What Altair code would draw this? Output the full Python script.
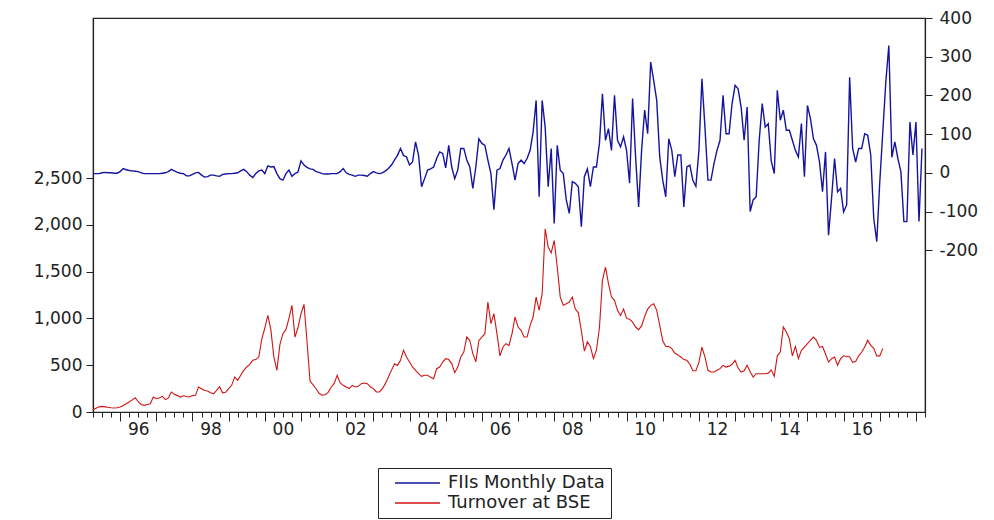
import altair as alt
import pandas as pd

# Monthly observations starting April 1995
start_year = 1995
start_month = 4

series_names = ["FIIs Monthly Data", "Turnover at BSE"]
series_colors = ["#1414a0", "#d01414"]

fii_values = [
    -2, -2, -2, 0, 1, 0, 0, -1, -1,                      # 1995 Apr-Dec
    3, 11, 8, 6, 5, 4, 3, 0, -2, -2, -2, -2,              # 1996
    -2, -2, -1, 0, 3, 9, 5, 1, -1, -2, -8, -8,            # 1997
    -4, 0, 1, -6, -11, -10, -6, -6, -8, -9, -4, -3,       # 1998
    -2, -2, -1, 0, 5, 9, 3, -6, -12, -2, 5, 7,            # 1999
    -2, 18, 15, 16, -2, -15, -19, -2, 7, -9, -2, 2,       # 2000
    31, 20, 14, 10, 9, 3, 1, -2, -3, -3, -2, -2,          # 2001
    -2, 3, 11, 0, -4, -6, -9, -6, -6, -7, -9, -2,         # 2002
    3, 0, -2, 0, 5, 11, 20, 33, 45, 63, 45, 41,           # 2003
    20, 28, 80, 45, -36, -15, 7, 10, 15, 37, 54, 50,      # 2004
    13, 71, 15, -15, 7, 63, 63, 33, 15, -40, 15, 88,      # 2005
    76, 71, 33, -2, -95, 7, 11, 33, 46, 63, 24, -19,      # 2006
    24, 33, 24, 37, 58, 106, 187, -62, 187, 118, -36, 63, # 2007
    -131, 71, 7, -2, -70, -105, -23, -27, -36, -139, -10, 10,  # 2008
    -36, 15, 15, 76, 204, 84, 114, 58, 200, 84, 67, 93,   # 2009
    58, -27, 192, 41, -88, 60, 162, 101, 286, 239, 187, 41,    # 2010
    -19, -62, 88, 58, -10, 46, 46, -88, 15, 20, -20, -35, # 2011
    58, 243, 118, -19, -19, 24, 58, 84, 200, 101, 101, 179,    # 2012
    226, 217, 170, 84, 170, -100, -70, -62, 84, 179, 118, 127, # 2013
    30, -2, 213, 136, 162, 110, 110, 84, 58, 41, 127, -10,     # 2014
    174, 140, 88, 71, 28, -49, 54, -161, -66, 37, -49, -40,    # 2015
    -101, -83, 247, 63, 28, 63, 63, 101, 97, 46, -118, -178,   # 2016
    -23, 106, 235, 329, 40, 80, 37, 3, -126, -126, 131, 46,    # 2017
    131, -126, 63,                                        # 2018 Jan-Mar
]

turnover_values = [
    25, 40, 55, 60, 55, 50, 46, 43, 45,                          # 1995 Apr-Dec
    53, 70, 89, 107, 130, 153, 110, 80, 71, 80, 89, 160,          # 1996
    142, 150, 167, 132, 150, 214, 189, 175, 160, 174, 165, 160,   # 1997
    175, 178, 267, 249, 230, 224, 205, 195, 231, 270, 205, 210,   # 1998
    249, 285, 374, 338, 392, 445, 481, 509, 552, 560, 587, 780,   # 1999
    900, 1032, 880, 587, 445, 720, 837, 880, 1000, 1139, 800, 900,     # 2000
    1050, 1150, 750, 330, 290, 249, 200, 180, 185, 210, 265, 305,      # 2001
    392, 310, 285, 267, 250, 285, 267, 274, 303, 310, 303, 270,   # 2002
    250, 214, 214, 250, 303, 374, 445, 516, 498, 552, 659, 587,   # 2003
    534, 481, 445, 410, 381, 392, 392, 370, 356, 463, 481, 534,   # 2004
    570, 560, 517, 420, 480, 588, 640, 801, 765, 623, 535, 765,   # 2005
    801, 837, 1175, 944, 1051, 837, 600, 695, 730, 712, 837, 1015,     # 2006
    908, 872, 801, 801, 926, 1015, 1228, 1086, 1264, 1958, 1762, 1700, # 2007
    1833, 1549, 1228, 1140, 1157, 1175, 1228, 1100, 1060, 870, 650, 750,  # 2008
    700, 570, 660, 900, 1406, 1548, 1371, 1228, 1193, 1086, 1030, 1100,  # 2009
    1000, 990, 960, 908, 880, 920, 1020, 1100, 1140, 1157, 1086, 926,    # 2010
    760, 700, 700, 677, 630, 610, 588, 560, 552, 510, 440, 440,   # 2011
    530, 694, 590, 445, 427, 427, 445, 463, 498, 480, 490, 510,   # 2012
    552, 470, 427, 440, 500, 430, 374, 409, 409, 409, 409, 415,   # 2013
    450, 380, 600, 641, 908, 854, 783, 600, 700, 570, 659, 694,   # 2014
    730, 766, 801, 766, 690, 700, 620, 534, 570, 588, 500, 570,   # 2015
    600, 590, 590, 530, 540, 600, 641, 694, 766, 712, 680, 600,   # 2016
    600, 680,                                                     # 2017 Jan-Feb
]

left_ticks = [0, 500, 1000, 1500, 2000, 2500]
right_ticks = [-200, -100, 0, 100, 200, 300, 400]
x_domain = [1995.25, 2018.25]
left_domain = [0, 4210]
right_domain = [-618, 400]


def month_positions(n):
    return [start_year + (start_month - 1 + i) / 12 for i in range(n)]


fii_df = pd.DataFrame({"t": month_positions(len(fii_values)), "value": fii_values,
                       "series": series_names[0]})
turn_df = pd.DataFrame({"t": month_positions(len(turnover_values)), "value": turnover_values,
                        "series": series_names[1]})

quarters = [x_domain[0] + 0.25 * k for k in range(int(round((x_domain[1] - x_domain[0]) / 0.25)) + 1)]

FONT = "DejaVu Sans"
FS = 17

x_enc = alt.X(
    "t:Q",
    scale=alt.Scale(domain=x_domain, nice=False, zero=False),
    axis=alt.Axis(
        title=None,
        values=quarters,
        labelExpr=("(abs(datum.value - floor(datum.value) - 0.5) < 0.01 && floor(datum.value) % 2 == 0)"
                   " ? ((floor(datum.value) % 100 < 10 ? '0' : '') + (floor(datum.value) % 100)) : ''"),
        tickSize={"condition": {"test": "abs(datum.value - round(datum.value)) < 0.01", "value": 9}, "value": 5},
        labelOverlap=False,
        labelFlush=False,
        labelBound=False,
        labelPadding=4,
        grid=False,
    ),
)

color_enc = alt.Color(
    "series:N",
    scale=alt.Scale(domain=series_names, range=series_colors),
    legend=alt.Legend(
        title=None,
        orient="none",
        legendX=285,
        legendY=450,
        direction="vertical",
        symbolType="M0.4,0H9.4",
        symbolSize=100,
        symbolStrokeWidth=1.3,
        labelFont=FONT,
        labelFontSize=18,
        labelColor="#222222",
        labelLimit=400,
        labelOffset=46,
        rowPadding=2,
        padding=6,
        strokeColor="#222222",
        fillColor="white",
    ),
)

fii_line = alt.Chart(fii_df).mark_line(strokeWidth=1.4).encode(
    x=x_enc,
    y=alt.Y(
        "value:Q",
        scale=alt.Scale(domain=right_domain, nice=False, zero=False),
        axis=alt.Axis(
            orient="right",
            title=None,
            values=right_ticks,
            labelExpr="datum.value + ''",
            tickSize=7,
            labelPadding=7,
            grid=False,
        ),
    ),
    color=color_enc,
)

turn_line = alt.Chart(turn_df).mark_line(strokeWidth=1.1).encode(
    x=x_enc,
    y=alt.Y(
        "value:Q",
        scale=alt.Scale(domain=left_domain, nice=False, zero=False),
        axis=alt.Axis(
            orient="left",
            title=None,
            values=left_ticks,
            labelExpr="format(datum.value, ',.0f')",
            tickSize=7,
            labelPadding=4,
            grid=False,
        ),
    ),
    color=color_enc,
)

chart = (
    alt.layer(fii_line, turn_line)
    .resolve_scale(y="independent")
    .properties(
        width=832,
        height=394,
        autosize=alt.AutoSizeParams(type="none"),
        padding={"left": 93, "top": 18, "right": 69, "bottom": 108},
        background="white",
    )
    .configure_view(stroke="#222222", strokeWidth=1.2)
    .configure_axis(
        domainColor="#222222",
        domainWidth=1.2,
        tickColor="#222222",
        labelFont=FONT,
        labelFontSize=FS,
        labelColor="#222222",
    )
)

chart.save("out.html", embed_options={"renderer": "svg", "actions": False})
